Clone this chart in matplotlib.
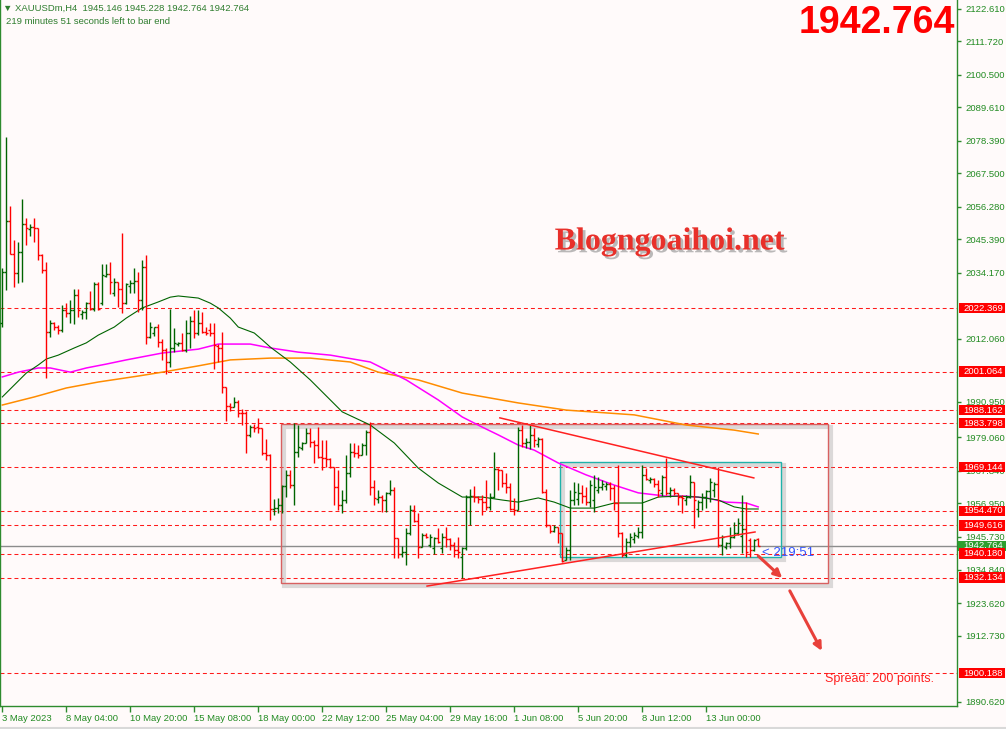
import matplotlib
matplotlib.use('Agg')
import matplotlib.pyplot as plt
import matplotlib.patheffects as pe
from matplotlib.patches import Rectangle, FancyArrowPatch
from matplotlib.lines import Line2D
import numpy as np

plt.rcParams['font.family'] = ['Liberation Sans', 'DejaVu Sans']

# ---- data (XAUUSDm H4 bars) ----
opens = [2017.2, 2034.5, 2051.6, 2040.5, 2034.0, 2041.2, 2050.4, 2048.9, 2049.4, 2049.0,
         2040.1, 2035.1, 2014.5, 2017.2, 2015.9, 2015.0, 2021.7, 2020.8, 2021.7, 2026.7,
         2020.4, 2021.1, 2024.2, 2021.9, 2030.4, 2024.0, 2033.1, 2033.8, 2027.3, 2031.0,
         2028.6, 2024.2, 2029.7, 2030.9, 2031.5, 2025.0, 2036.1, 2012.8, 2014.0, 2015.9,
         2011.1, 2008.3, 2004.4, 2008.9, 2010.2, 2010.5, 2008.3, 2013.9, 2018.1, 2013.9,
         2017.2, 2014.5, 2015.0, 2013.9, 2009.8, 2009.0, 1995.8, 1989.6, 1989.3, 1991.0,
         1987.3, 1987.1, 1979.9, 1982.7, 1982.6, 1982.1, 1973.7, 1973.2, 1955.0, 1955.5,
         1956.4, 1962.8, 1966.5, 1963.1, 1974.3, 1975.4, 1977.1, 1980.4, 1977.6, 1976.5,
         1972.6, 1972.1, 1971.7, 1969.3, 1962.4, 1956.4, 1958.1, 1967.0, 1974.3, 1974.0,
         1973.2, 1976.5, 1981.0, 1962.6, 1958.3, 1959.0, 1958.1, 1960.5, 1961.5, 1945.3,
         1940.0, 1940.8, 1947.0, 1954.8, 1951.2, 1942.5, 1946.4, 1943.0, 1942.0, 1945.3,
         1942.0, 1945.8, 1945.0, 1943.0, 1941.4, 1938.9, 1941.9, 1959.2, 1959.4, 1959.2,
         1958.5, 1957.6, 1955.7, 1959.2, 1968.4, 1968.0, 1963.9, 1962.6, 1955.0, 1954.8,
         1981.5, 1977.1, 1977.6, 1980.0, 1977.0, 1978.4, 1960.9, 1949.7, 1947.8, 1949.2,
         1947.0, 1938.0, 1941.4, 1958.1, 1958.5, 1960.3, 1959.5, 1957.6, 1958.0, 1961.5,
         1962.4, 1962.8, 1963.5, 1962.0, 1957.0, 1947.0, 1939.7, 1944.2, 1945.0, 1946.0,
         1947.5, 1966.5, 1964.8, 1965.3, 1963.5, 1960.3, 1965.9, 1960.3, 1961.5, 1960.3,
         1959.2, 1958.0, 1959.2, 1964.2, 1955.0, 1957.5, 1959.2, 1961.0, 1961.5, 1963.5,
         1943.0, 1942.5, 1943.6, 1945.8, 1947.0, 1946.0, 1948.5, 1944.8, 1941.5, 1945.146]
highs = [2035.7, 2079.5, 2056.5, 2045.1, 2044.4, 2058.9, 2052.4, 2050.4, 2052.4, 2049.3,
         2040.3, 2037.7, 2018.4, 2017.8, 2016.7, 2023.4, 2023.9, 2025.1, 2028.6, 2028.6,
         2021.7, 2024.5, 2028.1, 2031.2, 2031.2, 2037.0, 2037.0, 2037.7, 2032.3, 2031.2,
         2047.4, 2030.6, 2031.7, 2035.9, 2034.4, 2038.4, 2040.1, 2017.8, 2016.1, 2017.0,
         2011.9, 2008.9, 2021.9, 2015.6, 2011.1, 2013.9, 2018.4, 2019.7, 2021.7, 2021.7,
         2021.1, 2016.1, 2017.5, 2017.2, 2010.2, 2014.5, 1996.0, 1990.5, 1992.5, 1991.6,
         1988.5, 1987.9, 1983.2, 1983.5, 1985.4, 1982.1, 1978.4, 1973.5, 1958.3, 1958.7,
         1963.1, 1968.2, 1968.2, 1983.8, 1983.2, 1977.6, 1982.1, 1982.1, 1978.2, 1982.7,
         1978.2, 1978.2, 1972.1, 1969.3, 1968.2, 1961.5, 1973.2, 1977.3, 1977.1, 1976.5,
         1977.1, 1981.5, 1984.3, 1964.8, 1961.5, 1959.8, 1960.9, 1964.8, 1962.6, 1945.3,
         1942.7, 1948.6, 1956.4, 1956.4, 1953.6, 1947.0, 1947.0, 1946.8, 1945.8, 1948.6,
         1947.0, 1949.2, 1945.3, 1944.2, 1945.8, 1942.5, 1959.8, 1961.7, 1962.8, 1959.4,
         1959.8, 1964.8, 1960.3, 1974.3, 1968.7, 1968.2, 1967.0, 1963.7, 1958.7, 1982.7,
         1983.2, 1978.7, 1983.2, 1982.1, 1979.3, 1978.7, 1961.8, 1949.7, 1949.7, 1949.2,
         1947.0, 1942.5, 1961.5, 1964.2, 1963.7, 1963.1, 1962.6, 1964.8, 1966.5, 1965.9,
         1964.8, 1964.2, 1964.2, 1963.1, 1969.8, 1947.5, 1945.3, 1947.0, 1947.5, 1949.2,
         1969.8, 1968.7, 1965.9, 1965.4, 1964.8, 1966.5, 1972.1, 1962.6, 1962.0, 1960.3,
         1959.8, 1959.8, 1966.5, 1964.2, 1958.1, 1960.3, 1961.5, 1965.4, 1964.2, 1969.3,
         1946.4, 1944.2, 1949.2, 1950.9, 1952.0, 1959.8, 1957.4, 1945.4, 1945.0, 1945.228]
lows = [2016.1, 2028.4, 2040.3, 2029.5, 2030.9, 2031.2, 2043.5, 2046.5, 2044.4, 2038.4,
        2034.0, 1998.8, 2012.6, 2015.0, 2013.7, 2014.5, 2019.3, 2017.5, 2017.0, 2019.5,
        2018.7, 2018.7, 2021.7, 2021.5, 2021.7, 2023.5, 2032.9, 2027.1, 2026.5, 2022.8,
        2020.8, 2023.7, 2027.3, 2027.3, 2021.0, 2021.7, 2010.3, 2012.2, 2013.0, 2009.4,
        2005.0, 2000.2, 2002.7, 2007.8, 2009.7, 2008.1, 2007.8, 2008.9, 2012.2, 2013.3,
        2013.9, 2013.3, 2013.0, 2001.8, 2004.4, 1993.8, 1984.7, 1988.0, 1989.1, 1986.0,
        1983.2, 1974.0, 1979.3, 1981.0, 1980.4, 1973.2, 1971.5, 1951.4, 1953.1, 1953.6,
        1953.6, 1959.2, 1962.0, 1956.4, 1972.6, 1974.8, 1977.1, 1976.0, 1970.4, 1972.1,
        1968.2, 1969.3, 1968.7, 1956.4, 1954.8, 1953.6, 1957.0, 1965.9, 1972.6, 1972.1,
        1973.2, 1973.2, 1959.8, 1956.4, 1957.0, 1954.2, 1954.2, 1959.8, 1938.6, 1938.6,
        1939.1, 1936.4, 1946.4, 1950.9, 1938.6, 1942.5, 1945.3, 1942.5, 1940.0, 1943.6,
        1940.3, 1942.5, 1941.4, 1939.1, 1938.6, 1931.9, 1941.4, 1949.7, 1957.6, 1957.0,
        1953.1, 1954.8, 1954.8, 1958.8, 1961.5, 1962.6, 1960.3, 1954.8, 1953.1, 1954.8,
        1976.0, 1975.4, 1975.1, 1976.0, 1976.0, 1960.3, 1949.2, 1947.0, 1947.5, 1943.6,
        1937.5, 1938.0, 1938.0, 1956.4, 1956.4, 1957.0, 1956.4, 1955.9, 1954.2, 1960.3,
        1961.5, 1961.5, 1958.1, 1954.8, 1945.8, 1939.1, 1939.1, 1942.5, 1943.6, 1945.3,
        1945.3, 1964.8, 1963.7, 1962.6, 1959.2, 1959.4, 1959.8, 1959.2, 1959.8, 1956.4,
        1953.6, 1956.4, 1958.7, 1948.6, 1952.5, 1954.8, 1955.3, 1957.6, 1959.2, 1942.5,
        1939.7, 1941.6, 1941.9, 1945.3, 1946.4, 1940.4, 1939.0, 1939.0, 1941.0, 1942.764]
closes = [2034.5, 2051.6, 2040.5, 2034.0, 2041.2, 2050.4, 2049.0, 2049.4, 2049.0, 2040.1,
          2035.1, 2014.5, 2017.2, 2015.9, 2015.0, 2021.7, 2020.8, 2021.7, 2026.7, 2021.7,
          2021.1, 2023.9, 2021.9, 2030.4, 2022.0, 2033.4, 2033.8, 2031.0, 2031.0, 2028.6,
          2024.2, 2030.4, 2030.9, 2031.5, 2025.0, 2036.1, 2012.8, 2016.1, 2015.9, 2011.1,
          2008.3, 2004.4, 2008.9, 2010.5, 2010.5, 2008.3, 2013.9, 2018.1, 2013.9, 2017.2,
          2014.5, 2013.9, 2013.9, 2010.0, 2009.0, 1995.8, 1989.6, 1989.3, 1991.0, 1987.3,
          1987.1, 1979.9, 1982.7, 1982.1, 1982.1, 1973.7, 1973.2, 1955.0, 1955.5, 1956.4,
          1962.8, 1966.5, 1963.1, 1974.3, 1976.0, 1977.1, 1980.4, 1977.6, 1976.5, 1972.6,
          1972.1, 1971.7, 1969.3, 1962.4, 1956.4, 1958.1, 1967.0, 1974.3, 1974.0, 1973.2,
          1976.5, 1981.0, 1962.6, 1958.7, 1959.0, 1958.1, 1960.5, 1961.5, 1945.3, 1940.2,
          1940.8, 1947.0, 1954.8, 1951.2, 1942.5, 1946.4, 1945.8, 1945.8, 1945.3, 1944.2,
          1945.8, 1945.0, 1943.0, 1941.4, 1940.8, 1941.9, 1959.2, 1959.4, 1959.2, 1958.5,
          1957.6, 1955.7, 1959.2, 1968.4, 1968.0, 1963.9, 1962.6, 1955.0, 1954.8, 1981.5,
          1977.1, 1977.6, 1980.0, 1978.2, 1978.4, 1960.9, 1949.7, 1947.8, 1949.2, 1947.0,
          1937.8, 1941.4, 1958.1, 1960.9, 1960.3, 1959.5, 1957.6, 1963.1, 1962.6, 1962.6,
          1963.5, 1963.5, 1962.0, 1957.0, 1947.0, 1939.7, 1944.2, 1945.8, 1946.4, 1947.5,
          1966.5, 1965.0, 1965.3, 1963.5, 1961.5, 1965.9, 1960.3, 1961.5, 1960.5, 1959.2,
          1958.7, 1959.2, 1964.2, 1958.0, 1957.5, 1959.2, 1961.2, 1964.2, 1963.5, 1943.0,
          1945.8, 1943.6, 1945.8, 1947.0, 1950.3, 1948.5, 1940.7, 1941.5, 1944.6, 1942.764]

# moving averages sampled along the chart (bar number, price)
ma_fast_bar = [0, 3, 6, 9, 11, 14, 18, 21, 24, 28, 31, 35, 39, 42, 44, 49, 52, 54, 57, 59,
               63, 65, 67, 72, 77, 85, 92, 98, 104, 109, 115, 120, 125, 129, 134, 138, 142,
               148, 153, 160, 164, 169, 174, 179, 183, 186, 189]
ma_fast = [1992.6, 1996.6, 2000.6, 2003.3, 2005.3, 2006.6, 2009.0, 2010.7, 2013.3, 2016.0,
           2019.0, 2022.4, 2024.4, 2026.0, 2026.4, 2025.7, 2024.0, 2022.4, 2019.0, 2016.0,
           2014.0, 2011.7, 2009.3, 2004.3, 1998.3, 1987.6, 1983.2, 1977.2, 1968.8, 1963.8,
           1959.1, 1959.1, 1958.1, 1957.4, 1958.8, 1957.4, 1955.4, 1955.4, 1957.1, 1957.1,
           1959.1, 1959.4, 1959.1, 1958.1, 1955.8, 1955.1, 1955.1]
ma_mid_bar = [0, 4, 9, 12, 17, 21, 26, 31, 40, 49, 54, 62, 67, 74, 82, 92, 101, 109, 115,
              120, 124, 129, 133, 139, 146, 153, 159, 166, 171, 176, 181, 186, 189]
ma_mid = [1999.3, 2000.9, 2002.3, 2002.3, 2000.9, 2002.3, 2003.6, 2005.0, 2007.3, 2008.6,
          2010.3, 2010.3, 2009.0, 2007.6, 2006.6, 2004.3, 1998.3, 1991.6, 1985.9, 1982.5,
          1979.9, 1976.5, 1974.8, 1970.5, 1966.5, 1963.1, 1960.5, 1959.4, 1959.4, 1958.8,
          1957.4, 1957.1, 1955.8]
ma_slow_bar = [0, 8, 16, 24, 34, 40, 49, 57, 67, 77, 87, 94, 104, 115, 129, 141, 158, 171, 183, 189]
ma_slow = [1989.9, 1992.6, 1995.6, 1997.6, 1999.6, 2000.9, 2003.0, 2005.0, 2005.6, 2005.6,
           2004.3, 2000.9, 1998.3, 1993.9, 1990.6, 1988.2, 1986.6, 1983.2, 1981.5, 1980.2]

levels = [2022.369, 2001.064, 1988.162, 1983.798, 1969.144, 1954.470, 1949.616,
          1940.180, 1932.134, 1900.188]
bid = 1942.764

# scale ticks (the ones fully covered by level labels are left out)
price_ticks = [2122.61, 2111.72, 2100.50, 2089.61, 2078.39, 2067.50, 2056.28, 2045.39,
               2034.17, 2012.06, 1990.95, 1979.06, 1967.84, 1956.95,
               1945.73, 1934.84, 1923.62, 1912.73, 1890.62]
date_bars = [0, 16, 32, 48, 64, 80, 96, 112, 128, 144, 160, 176]
date_labels = ['3 May 2023', '8 May 04:00', '10 May 20:00', '15 May 08:00', '18 May 00:00',
               '22 May 12:00', '25 May 04:00', '29 May 16:00', '1 Jun 08:00', '5 Jun 20:00',
               '8 Jun 12:00', '13 Jun 00:00']

# drawn objects (bar number, price)
range_box = (69.7, 206.4, 1930.3, 1983.6)
flag_box = (139.4, 194.7, 1939.0, 1970.8)
upper_line = ([124.4, 187.9], [1985.6, 1965.5])
lower_line = ([106.2, 188.2], [1929.3, 1947.4])
arrows = [((189.0, 1939.4), (195.0, 1932.0)), ((196.9, 1927.7), (204.9, 1907.6))]

BG = '#fffafa'
AXC = '#2e8b2e'
TXC = '#228b22'
UP = '#006400'
DN = '#ff0000'

fig = plt.figure(figsize=(10.06, 7.29), dpi=100)
fig.patch.set_facecolor(BG)
ax = fig.add_axes([0, 23 / 729, 957 / 1006, 706 / 729])
ax.set_facecolor(BG)
ax.set_xlim(-0.575, 238.7)
ax.set_ylim(1889.16, 2125.46)

o = np.array(opens); h = np.array(highs); l = np.array(lows); c = np.array(closes)
x = np.arange(len(c))
cols = np.where(c >= o, UP, DN)

# horizontal levels
for lv in levels:
    ax.axhline(lv, color='#ff1a1a', lw=0.75, ls=(0, (3.8, 2.9)), zorder=1)
ax.axhline(bid, color='#8c8c8c', lw=1.0, zorder=1)

# rectangles with soft shadow
for (x0, x1, y0, y1), ec in [(range_box, '#d86060'), (flag_box, '#20b2aa')]:
    sh = Rectangle((x0, y0), x1 - x0, y1 - y0, fill=False, ec=ec, lw=1.0, zorder=2,
                   path_effects=[pe.SimpleLineShadow(offset=(2, -2), shadow_color='#999999',
                                                     alpha=0.35, linewidth=3), pe.Normal()])
    ax.add_patch(sh)

# moving averages
ax.plot(ma_slow_bar, ma_slow, color='#ff8c00', lw=1.1, zorder=3)
ax.plot(ma_mid_bar, ma_mid, color='#ff00ff', lw=1.1, zorder=3)
ax.plot(ma_fast_bar, ma_fast, color='#006400', lw=0.8, zorder=3)

# OHLC bars
ax.vlines(x, l, h, colors=cols, lw=1.0, zorder=4)
ax.hlines(o, x - 0.45, x, colors=cols, lw=1.0, zorder=4)
ax.hlines(c, x, x + 0.45, colors=cols, lw=1.0, zorder=4)

# trendlines and arrows
ax.plot(*upper_line, color='#ff2020', lw=1.1, zorder=5)
ax.plot(*lower_line, color='#ff2020', lw=1.1, zorder=5)
for a, b in arrows:
    ax.add_patch(FancyArrowPatch(a, b, arrowstyle='-|>', mutation_scale=12,
                                 color='#e8403a', lw=2.2, zorder=6, shrinkA=0, shrinkB=0))

# axes styling
ax.spines['top'].set_visible(False)
for s in ['left', 'right', 'bottom']:
    ax.spines[s].set_color(AXC)
    ax.spines[s].set_linewidth(1.0)
ax.yaxis.tick_right()
ax.set_yticks(price_ticks)
ax.set_yticklabels([f'{t:.3f}' for t in price_ticks])
ax.tick_params(axis='y', colors=AXC, labelcolor=TXC, length=3, width=1, pad=3, labelsize=6.8)
ax.set_xticks(date_bars)
ax.set_xticklabels(date_labels, ha='left')
ax.tick_params(axis='x', colors=AXC, labelcolor=TXC, length=4, width=1, pad=2, labelsize=6.8)

# price labels on the scale
tr = ax.get_yaxis_transform()
hh = 3.5
ax.add_patch(Rectangle((1 + 1 / 957, bid - hh / 2), 48 / 957, hh, transform=tr,
                       fc='#2e9e2e', ec='none', clip_on=False, zorder=8))
ax.text(1 + 6 / 957, bid, f'{bid:.3f}', transform=tr, color='white', fontsize=6.8,
        va='center', ha='left', clip_on=False, zorder=9)
for lv in levels:
    ax.add_patch(Rectangle((1 + 2 / 957, lv - hh / 2), 46 / 957, hh, transform=tr,
                           fc='#ff0000', ec='none', clip_on=False, zorder=10))
    ax.text(1 + 6 / 957, lv, f'{lv:.3f}', transform=tr, color='white', fontsize=6.8,
            va='center', ha='left', clip_on=False, zorder=11)

# texts
fig.text(3 / 1006, 1 - 8 / 729, '\u25bc XAUUSDm,H4  1945.146 1945.228 1942.764 1942.764',
         color='#2e7d2e', fontsize=6.8, va='center')
fig.text(6 / 1006, 1 - 22 / 729, '219 minutes 51 seconds left to bar end',
         color='#2e7d2e', fontsize=6.8, va='center')
fig.text(955 / 1006, 1 - 23 / 729, '1942.764', ha='right', va='center', color='#ff0000',
         fontsize=27, fontweight='bold')
fig.text(670 / 1006, 1 - 242 / 729, 'Blogngoaihoi.net', ha='center', va='center',
         fontsize=23, fontweight='bold', family='Liberation Serif', color='#e8302a',
         path_effects=[pe.SimplePatchShadow(offset=(2, -2), shadow_rgbFace='#777777', alpha=0.5),
                       pe.Normal()])
fig.text(825 / 1006, 1 - 679 / 729, 'Spread: 200 points.', color='#ff2020', fontsize=9,
         va='center')
fig.text(762 / 1006, 1 - 553 / 729, '< 219:51', color='#3355ff', fontsize=9.5, va='center')

fig.add_artist(Line2D([0, 1], [1.5 / 729, 1.5 / 729], color='#d9d9d9', lw=1.5))

fig.savefig('out.png', dpi=100, facecolor=BG)
